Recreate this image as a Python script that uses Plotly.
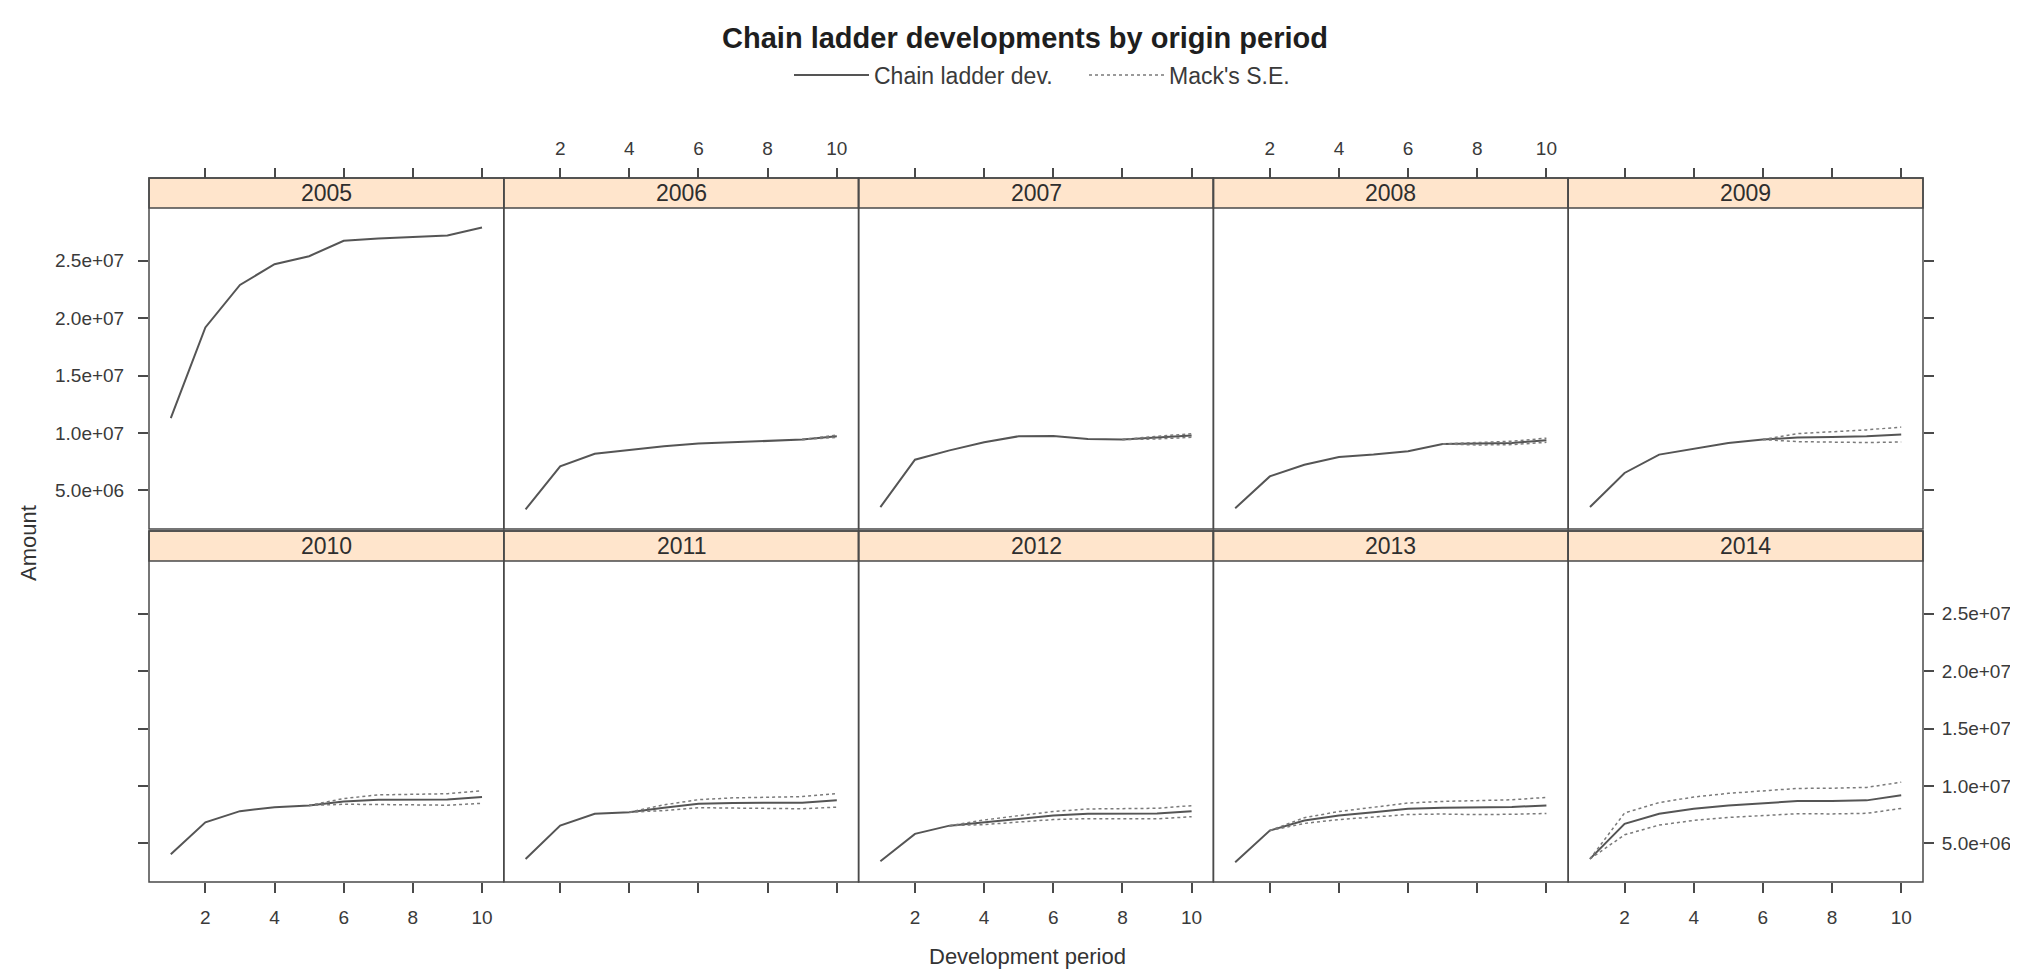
import plotly.graph_objects as go

# ---------------- data ----------------
dev_periods = [1, 2, 3, 4, 5, 6, 7, 8, 9, 10]
origin_years = [2005, 2006, 2007, 2008, 2009, 2010, 2011, 2012, 2013, 2014]

cl_2005 = [1.13e7, 1.92e7, 2.29e7, 2.47e7, 2.54e7, 2.675e7, 2.695e7, 2.71e7, 2.72e7, 2.79e7]
cl_2006 = [3.35e6, 7.10e6, 8.20e6, 8.55e6, 8.84e6, 9.08e6, 9.19e6, 9.28e6, 9.43e6, 9.72e6]
cl_2007 = [3.55e6, 7.68e6, 8.49e6, 9.20e6, 9.72e6, 9.75e6, 9.49e6, 9.43e6, 9.60e6, 9.78e6]
cl_2008 = [3.45e6, 6.22e6, 7.24e6, 7.92e6, 8.12e6, 8.41e6, 9.05e6, 9.08e6, 9.14e6, 9.37e6]
cl_2009 = [3.55e6, 6.52e6, 8.12e6, 8.62e6, 9.14e6, 9.43e6, 9.60e6, 9.66e6, 9.72e6, 9.87e6]
cl_2010 = [4.05e6, 6.84e6, 7.81e6, 8.16e6, 8.31e6, 8.66e6, 8.81e6, 8.81e6, 8.83e6, 9.04e6]
cl_2011 = [3.65e6, 6.55e6, 7.58e6, 7.72e6, 8.11e6, 8.46e6, 8.52e6, 8.52e6, 8.55e6, 8.75e6]
cl_2012 = [3.45e6, 5.83e6, 6.55e6, 6.84e6, 7.14e6, 7.43e6, 7.58e6, 7.58e6, 7.60e6, 7.81e6]
cl_2013 = [3.36e6, 6.12e6, 6.99e6, 7.43e6, 7.72e6, 8.02e6, 8.11e6, 8.11e6, 8.17e6, 8.31e6]
cl_2014 = [3.65e6, 6.70e6, 7.58e6, 8.02e6, 8.31e6, 8.51e6, 8.69e6, 8.69e6, 8.75e6, 9.19e6]

# Mack standard errors (None = observed period, no S.E. line)
se_2005 = [None, None, None, None, None, None, None, None, None, None]
se_2006 = [None, None, None, None, None, None, None, None, 0.0, 1.0e5]
se_2007 = [None, None, None, None, None, None, None, 0.0, 1.2e5, 1.5e5]
se_2008 = [None, None, None, None, None, None, 0.0, 1.2e5, 1.5e5, 1.8e5]
se_2009 = [None, None, None, None, None, 0.0, 3.5e5, 4.5e5, 5.5e5, 6.5e5]
se_2010 = [None, None, None, None, 0.0, 2.5e5, 4.2e5, 4.5e5, 5.0e5, 5.5e5]
se_2011 = [None, None, None, 0.0, 2.5e5, 3.5e5, 4.5e5, 5.0e5, 5.3e5, 5.9e5]
se_2012 = [None, None, 0.0, 2.0e5, 2.8e5, 3.5e5, 4.2e5, 4.4e5, 4.6e5, 4.8e5]
se_2013 = [None, 0.0, 2.5e5, 3.5e5, 4.3e5, 5.0e5, 5.5e5, 6.0e5, 6.3e5, 7.0e5]
se_2014 = [0.0, 9.5e5, 9.8e5, 1.02e6, 1.05e6, 1.08e6, 1.10e6, 1.12e6, 1.13e6, 1.14e6]

x_tick_vals = [2, 4, 6, 8, 10]
y_tick_vals = [5.0e6, 1.0e7, 1.5e7, 2.0e7, 2.5e7]
y_tick_text = ["5.0e+06", "1.0e+07", "1.5e+07", "2.0e+07", "2.5e+07"]

cl_series = [cl_2005, cl_2006, cl_2007, cl_2008, cl_2009,
             cl_2010, cl_2011, cl_2012, cl_2013, cl_2014]
se_series = [se_2005, se_2006, se_2007, se_2008, se_2009,
             se_2010, se_2011, se_2012, se_2013, se_2014]

# ---------------- layout geometry ----------------
PAGE_W, PAGE_H = 2018, 971
OFF = 8  # default body margin of the html page
W, H = PAGE_W - OFF, PAGE_H - OFF
FONT = "Liberation Sans, Arial, sans-serif"
LINE_COL = "#555555"
SE_COL = "#7a7a7a"
BORDER = "#4a4a4a"
STRIP_FILL = "#ffe5cc"

panel_left = 149.0
panel_w = 354.8
rows_px = [(208.0, 529.0), (561.0, 882.0)]  # data area top/bottom (page px)
strip_h = 30.0
x_range = [0.37, 10.63]
y_range = [1.64e6, 2.96e7]


def fx(px):
    return (px - OFF) / W


def fy(py):
    return 1 - (py - OFF) / H


fig = go.Figure()
layout = {}
shapes = []
annotations = []

for i, year in enumerate(origin_years):
    k = i + 1
    r, c = divmod(i, 5)
    xname = "x" if k == 1 else f"x{k}"
    yname = "y" if k == 1 else f"y{k}"
    xkey = "xaxis" if k == 1 else f"xaxis{k}"
    ykey = "yaxis" if k == 1 else f"yaxis{k}"
    x0px = panel_left + c * panel_w
    x1px = x0px + panel_w
    top_px, bot_px = rows_px[r]

    fig.add_trace(go.Scatter(
        x=dev_periods, y=cl_series[i], mode="lines",
        line=dict(color=LINE_COL, width=2),
        name="Chain ladder dev.", legendgroup="cl",
        showlegend=(i == 0), xaxis=xname, yaxis=yname, hoverinfo="skip"))
    se = se_series[i]
    idx = [j for j, v in enumerate(se) if v is not None]
    if idx:
        xs = [dev_periods[j] for j in idx]
        up = [cl_series[i][j] + se[j] for j in idx]
        lo = [cl_series[i][j] - se[j] for j in idx]
        for ys in (up, lo):
            fig.add_trace(go.Scatter(
                x=xs, y=ys, mode="lines",
                line=dict(color=SE_COL, width=1.5, dash="dot"),
                name="Mack's S.E.", legendgroup="se",
                showlegend=False, xaxis=xname, yaxis=yname, hoverinfo="skip"))

    xa = dict(domain=[fx(x0px), fx(x1px)], range=x_range, showgrid=False,
              zeroline=False, showline=False, tickvals=x_tick_vals,
              ticks="outside", ticklen=10, tickwidth=1.5, tickcolor=BORDER,
              tickfont=dict(family=FONT, size=19, color="#3a3a3a"),
              fixedrange=True)
    if r == 0:
        xa.update(side="top", anchor="free", position=fy(top_px - strip_h),
                  showticklabels=(c in (1, 3)), ticklabelstandoff=5)
    else:
        xa.update(side="bottom", anchor=yname, showticklabels=(c in (0, 2, 4)),
                  ticklabelstandoff=8)
    layout[xkey] = xa

    ya = dict(domain=[fy(bot_px), fy(top_px)], range=y_range, showgrid=False,
              zeroline=False, showline=False, anchor=xname,
              tickvals=y_tick_vals, ticktext=y_tick_text,
              tickcolor=BORDER, ticklen=10, tickwidth=1.5,
              tickfont=dict(family=FONT, size=19, color="#3a3a3a"),
              fixedrange=True)
    if c == 0:
        ya.update(side="left", ticks="outside", showticklabels=(r == 0),
                  ticklabelstandoff=10)
    elif c == 4:
        ya.update(side="right", ticks="outside", showticklabels=(r == 1),
                  ticklabelstandoff=4)
    else:
        ya.update(ticks="", showticklabels=False)
    layout[ykey] = ya

    shapes.append(dict(type="rect", xref="paper", yref="paper",
                       x0=fx(x0px), x1=fx(x1px),
                       y0=fy(top_px), y1=fy(top_px - strip_h),
                       fillcolor=STRIP_FILL, line=dict(color=BORDER, width=1.5),
                       layer="below"))
    shapes.append(dict(type="rect", xref="paper", yref="paper",
                       x0=fx(x0px), x1=fx(x1px),
                       y0=fy(bot_px), y1=fy(top_px - strip_h),
                       fillcolor="rgba(0,0,0,0)", line=dict(color=BORDER, width=1.5),
                       layer="above"))
    annotations.append(dict(text=str(year), xref="paper", yref="paper",
                            x=fx((x0px + x1px) / 2), y=fy(top_px - strip_h / 2),
                            xanchor="center", yanchor="middle", showarrow=False,
                            font=dict(family=FONT, size=23, color="#2e2e2e")))

annotations.append(dict(text="Amount", xref="paper", yref="paper",
                        x=fx(28), y=fy(543), textangle=-90, showarrow=False,
                        xanchor="center", yanchor="middle",
                        font=dict(family=FONT, size=22, color="#333333")))
annotations.append(dict(text="Development period", xref="paper", yref="paper",
                        x=fx(1027), y=fy(956), showarrow=False,
                        xanchor="center", yanchor="middle",
                        font=dict(family=FONT, size=22, color="#333333")))

for tr in fig.data:
    if tr.legendgroup == "se":
        tr.showlegend = True
        break

fig.update_layout(
    width=W, height=H,
    margin=dict(l=0, r=0, t=0, b=0),
    paper_bgcolor="white", plot_bgcolor="white",
    title=dict(text="<b>Chain ladder developments by origin period</b>",
               x=fx(1025), y=fy(38), xanchor="center", yanchor="middle",
               font=dict(family=FONT, size=29, color="#1e1e1e")),
    legend=dict(orientation="h", x=fx(1084), xanchor="center",
                y=fy(75), yanchor="middle", bgcolor="rgba(0,0,0,0)",
                font=dict(family=FONT, size=23, color="#3a3a3a"),
                itemwidth=75, entrywidth=205, entrywidthmode="pixels",
                tracegroupgap=0),
    shapes=shapes, annotations=annotations,
    showlegend=True,
    **layout,
)

fig.write_html("out.html")
